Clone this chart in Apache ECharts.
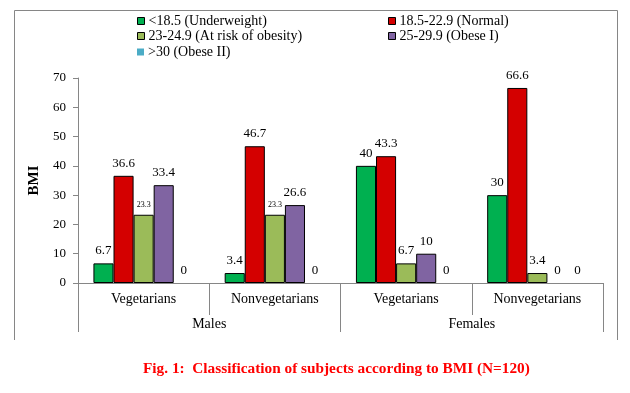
<!DOCTYPE html>
<html><head><meta charset="utf-8">
<script src="https://cdn.jsdelivr.net/npm/echarts@6/dist/echarts.min.js"></script>
<style>html,body{margin:0;padding:0;background:#fff}#c{width:630px;height:393px}</style>
</head><body><div id="c"></div>
<script>
const groups = ['Vegetarians', 'Nonvegetarians', 'Vegetarians', 'Nonvegetarians'];
const genders = ['Males', 'Females'];
const seriesNames = ['<18.5 (Underweight)', '18.5-22.9 (Normal)', '23-24.9 (At risk of obesity)', '25-29.9 (Obese I)', '>30 (Obese II)'];
const underweight = [6.7, 3.4, 40, 30];
const normal = [36.6, 46.7, 43.3, 66.6];
const atRisk = [23.3, 23.3, 6.7, 3.4];
const obeseI = [33.4, 26.6, 10, 0];
const obeseII = [0, 0, 0, 0];
const yTicks = [0, 10, 20, 30, 40, 50, 60, 70];

const colors = ['#00B050', '#D40000', '#9BBB59', '#8064A2', '#4BACC6'];
const serif = 'Liberation Serif';
const values = [underweight, normal, atRisk, obeseI, obeseII];

const chart = echarts.init(document.getElementById('c'), null, {renderer: 'canvas'});

const series = values.map((vals, i) => ({
  name: seriesNames[i],
  type: 'bar',
  xAxisIndex: 0,
  barGap: '0%',
  barCategoryGap: '23.5%',
  itemStyle: {color: colors[i], borderColor: '#000', borderWidth: 1},
  label: {show: true, position: 'top', distance: 6, color: '#000', fontFamily: serif, fontSize: 13},
  data: vals.map((v, j) => {
    const d = {value: v};
    if (i === 2 && j < 2) d.label = {fontSize: 8};
    if (v === 0) d.itemStyle = {borderWidth: 0};
    return d;
  })
}));

const legendPos = [
  {left: 137, top: 14}, {left: 388, top: 14},
  {left: 137, top: 29}, {left: 388, top: 29},
  {left: 137, top: 45}
];
const legends = seriesNames.map((n, i) => ({
  data: [n], left: legendPos[i].left, top: legendPos[i].top,
  icon: 'rect', itemWidth: 7, itemHeight: 7, itemGap: 4, padding: 0,
  itemStyle: i === 4 ? {borderWidth: 0} : {borderColor: '#000', borderWidth: 1},
  textStyle: {fontFamily: serif, fontSize: 14, color: '#000', padding: [0, 0, 0, -1]},
  selectedMode: false
}));

chart.setOption({
  animation: false,
  backgroundColor: '#fff',
  color: colors,
  legend: legends,
  grid: {left: 78, right: 27, top: 78, bottom: 110, containLabel: false},
  xAxis: [
    {type: 'category', data: groups, position: 'bottom',
     axisLine: {show: true, lineStyle: {color: '#868686'}},
     axisTick: {show: true, alignWithLabel: false, interval: 0, length: 32, lineStyle: {color: '#868686'}},
     axisLabel: {margin: 9, fontFamily: serif, fontSize: 14, color: '#000'}},
    {type: 'category', data: genders, position: 'bottom',
     axisLine: {show: false},
     axisTick: {show: true, alignWithLabel: false, interval: 0, length: 49, lineStyle: {color: '#868686'}},
     axisLabel: {margin: 34, fontFamily: serif, fontSize: 14, color: '#000'}}
  ],
  yAxis: {type: 'value', min: yTicks[0], max: yTicks[yTicks.length - 1], interval: 10,
    name: 'BMI', nameLocation: 'middle', nameGap: 31, nameRotate: 90,
    nameTextStyle: {fontFamily: serif, fontSize: 15, fontWeight: 'bold', color: '#000'},
    axisLine: {show: true, lineStyle: {color: '#868686'}},
    axisTick: {show: true, length: 5, lineStyle: {color: '#868686'}},
    splitLine: {show: false},
    axisLabel: {margin: 12, fontFamily: serif, fontSize: 13, color: '#000'}},
  title: {text: 'Fig. 1:  Classification of subjects according to BMI (N=120)', left: 138, top: 357,
    textStyle: {fontFamily: serif, fontSize: 15.3, fontWeight: 'bold', color: '#FF0000'}},
  graphic: [
    {type: 'polyline', silent: true, shape: {points: [[14.5, 340], [14.5, 10.5], [617.5, 10.5], [617.5, 340]]},
     style: {stroke: '#868686', lineWidth: 1, fill: null}}
  ],
  series: series
});
</script></body></html>
